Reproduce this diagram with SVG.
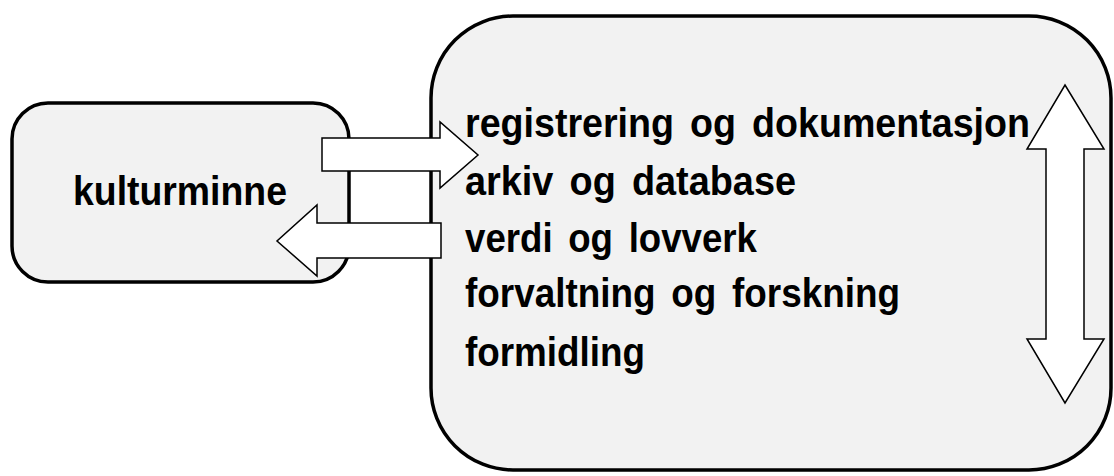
<svg xmlns="http://www.w3.org/2000/svg" width="1114" height="476" viewBox="0 0 1114 476">
<style>
.box{fill:#f2f2f2;stroke:#000;stroke-width:3.5}
.arr{fill:#fff;stroke:#000;stroke-width:1.5;stroke-linejoin:miter}
.t{font-family:"Liberation Sans",Arial,sans-serif;font-weight:bold;font-size:40px;word-spacing:6px;fill:#000}
</style>
<rect width="1114" height="476" fill="#fff"/>
<g id="node-kulturminne">
<rect class="box" x="12" y="103" width="337" height="179" rx="36" ry="36"/>
<text class="t" x="73" y="205" style="font-size:41px" textLength="214" lengthAdjust="spacingAndGlyphs">kulturminne</text>
</g>
<g id="node-prosess">
<rect class="box" x="431" y="16" width="680" height="454" rx="82" ry="82"/>
<text class="t" x="465" y="137" textLength="565" lengthAdjust="spacingAndGlyphs">registrering og dokumentasjon</text>
<text class="t" x="465" y="195" textLength="331" lengthAdjust="spacingAndGlyphs">arkiv og database</text>
<text class="t" x="465" y="252" textLength="292" lengthAdjust="spacingAndGlyphs">verdi og lovverk</text>
<text class="t" x="465" y="307" textLength="435" lengthAdjust="spacingAndGlyphs">forvaltning og forskning</text>
<text class="t" x="465" y="366" textLength="180" lengthAdjust="spacingAndGlyphs">formidling</text>
</g>
<g id="connectors">
<polygon class="arr" points="322,138 440,138 440,122 478,155 440,188 440,171 322,171"/>
<polygon class="arr" points="441,223 317,223 317,205 277,241 317,276 317,258 441,258"/>
<polygon class="arr" points="1065,85 1104,149 1084,149 1084,339 1104,339 1065,403 1027,339 1046,339 1046,149 1027,149"/>
</g>
</svg>
